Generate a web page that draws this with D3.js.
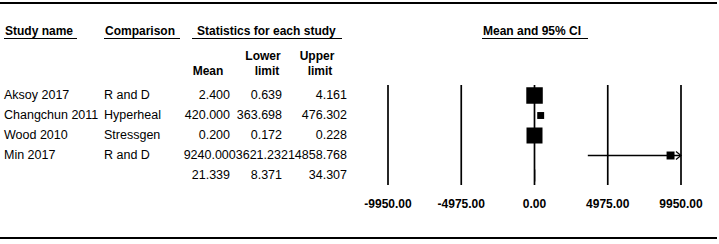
<!DOCTYPE html>
<html>
<head>
<meta charset="utf-8">
<script src="https://cdn.jsdelivr.net/npm/d3@7"></script>
<style>
  body { margin: 0; background: #fff; }
  svg { display: block; font-family: "Liberation Sans", Arial, sans-serif; }
</style>
</head>
<body>
<div id="chart"></div>
<script>
// data
const studies = ["Aksoy 2017", "Changchun 2011", "Wood 2010", "Min 2017"];
const comparisons = ["R and D", "Hyperheal", "Stressgen", "R and D"];
const means = [2.400, 420.000, 0.200, 9240.000];
const lowers = [0.639, 363.698, 0.172, 3621.232];
const uppers = [4.161, 476.302, 0.228, 14858.768];
const weights = [42.6, 7.5, 40.0, 9.9];   // relative weight (box size)
const summary = {mean: 21.339, lower: 8.371, upper: 34.307};
const axisTicks = [-9950, -4975, 0, 4975, 9950];

const width = 719, height = 244;

const svg = d3.select("#chart").append("svg")
    .attr("width", width)
    .attr("height", height);

const rows = studies.map((s, i) => ({
    name: s, comp: comparisons[i], mean: means[i],
    lower: lowers[i], upper: uppers[i], weight: weights[i]
}));

const y = d3.scaleBand()
    .domain(d3.range(rows.length + 1))
    .range([85.5, 185.5]);

const x = d3.scaleLinear()
    .domain([axisTicks[0], axisTicks[axisTicks.length - 1]])
    .range([388, 681]);

const boxSize = d3.scaleSqrt()
    .domain([0, d3.max(weights)])
    .range([0, 16.5]);

const fmt = d3.format(".3f");
const locale = d3.formatLocale({decimal: ".", thousands: ",", grouping: [3], currency: ["", ""], minus: "-"});
const tickFmt = locale.format(".2f");

// top & bottom rules
svg.append("line").attr("x1", 0).attr("x2", 717).attr("y1", 3).attr("y2", 3)
    .attr("stroke", "#000").attr("stroke-width", 2.2);
svg.append("line").attr("x1", 0).attr("x2", 717).attr("y1", 238).attr("y2", 238)
    .attr("stroke", "#000").attr("stroke-width", 2.2);

// headers
const headers = [
    {t: "Study name", x: 5, u: [4, 77]},
    {t: "Comparison", x: 105, u: [104, 180]},
    {t: "Statistics for each study", x: 197, u: [192, 342]},
    {t: "Mean and 95% CI", x: 483, u: [482, 588]}
];
const hg = svg.append("g").attr("font-size", 12).attr("font-weight", "bold");
headers.forEach(h => {
    hg.append("text").attr("x", h.x).attr("y", 35).text(h.t);
    hg.append("line").attr("x1", h.u[0]).attr("x2", h.u[1])
        .attr("y1", 38.5).attr("y2", 38.5).attr("stroke", "#000").attr("stroke-width", 1);
});
hg.append("text").attr("x", 208).attr("y", 75).attr("text-anchor", "middle").text("Mean");
hg.append("text").attr("x", 263).attr("y", 60).attr("text-anchor", "middle").text("Lower");
hg.append("text").attr("x", 267).attr("y", 75).attr("text-anchor", "middle").text("limit");
hg.append("text").attr("x", 317).attr("y", 60).attr("text-anchor", "middle").text("Upper");
hg.append("text").attr("x", 320).attr("y", 75).attr("text-anchor", "middle").text("limit");

// table rows
const colRight = [230, 282, 347];
const tg = svg.append("g").attr("font-size", 12.5).attr("fill", "#000");

function statCells(g, vals) {
    // right-aligned cells; when a value overflows its cell the row runs together
    const strs = vals.map(fmt);
    const probe = g.append("text").text(strs[2]);
    const wUp = probe.node().getComputedTextLength();
    probe.text(strs[1]);
    const wLo = probe.node().getComputedTextLength();
    probe.remove();
    if (colRight[2] - wUp < colRight[1] + 2 || colRight[1] - wLo < colRight[0] + 2) {
        g.append("text").attr("x", colRight[2]).attr("text-anchor", "end").text(strs.join(""));
    } else {
        strs.forEach((s, k) => g.append("text").attr("x", colRight[k]).attr("text-anchor", "end").text(s));
    }
}

rows.forEach((d, i) => {
    const g = tg.append("g")
        .attr("transform", `translate(0, ${y(i) + y.bandwidth() / 2 + 3})`);
    g.append("text").attr("x", 4).text(d.name);
    g.append("text").attr("x", 104).text(d.comp);
    statCells(g, [d.mean, d.lower, d.upper]);
});

const sy = y(rows.length) + y.bandwidth() / 2;
statCells(tg.append("g").attr("transform", `translate(0, ${sy + 3})`),
    [summary.mean, summary.lower, summary.upper]);

// vertical reference lines at ticks
svg.append("g").selectAll("line")
    .data(axisTicks)
    .join("line")
    .attr("x1", d => x(d)).attr("x2", d => x(d))
    .attr("y1", 85).attr("y2", 185)
    .attr("stroke", "#000").attr("stroke-width", 1.7);

// tick labels
svg.append("g").attr("font-size", 12).attr("font-weight", "bold")
    .selectAll("text")
    .data(axisTicks)
    .join("text")
    .attr("x", d => x(d))
    .attr("y", 208)
    .attr("text-anchor", "middle")
    .text(d => tickFmt(d));

// CI lines, clipped to axis with arrow
const xMax = x.domain()[1], xMin = x.domain()[0];
const marks = svg.append("g");
rows.forEach((d, i) => {
    const cy = y(i) + y.bandwidth() / 2;
    const lo = Math.max(d.lower, xMin), hi = Math.min(d.upper, xMax);
    marks.append("line")
        .attr("x1", x(lo)).attr("x2", x(hi))
        .attr("y1", cy).attr("y2", cy)
        .attr("stroke", "#000").attr("stroke-width", 1.7);
    if (d.upper > xMax) {
        marks.append("path")
            .attr("d", `M${x(xMax) - 5},${cy - 4}L${x(xMax)},${cy}L${x(xMax) - 5},${cy + 4}`)
            .attr("fill", "none").attr("stroke", "#000").attr("stroke-width", 1.2);
    }
    const s = boxSize(d.weight);
    marks.append("rect")
        .attr("x", x(d.mean) - s / 2).attr("y", cy - s / 2)
        .attr("width", s).attr("height", s)
        .attr("fill", "#000");
});

// summary diamond
marks.append("path")
    .attr("d", `M${x(summary.lower)},${sy}L${x(summary.mean)},${sy - 6}L${x(summary.upper)},${sy}L${x(summary.mean)},${sy + 6}Z`)
    .attr("fill", "#000").attr("stroke", "#000").attr("stroke-width", 0.5);
</script>
</body>
</html>
